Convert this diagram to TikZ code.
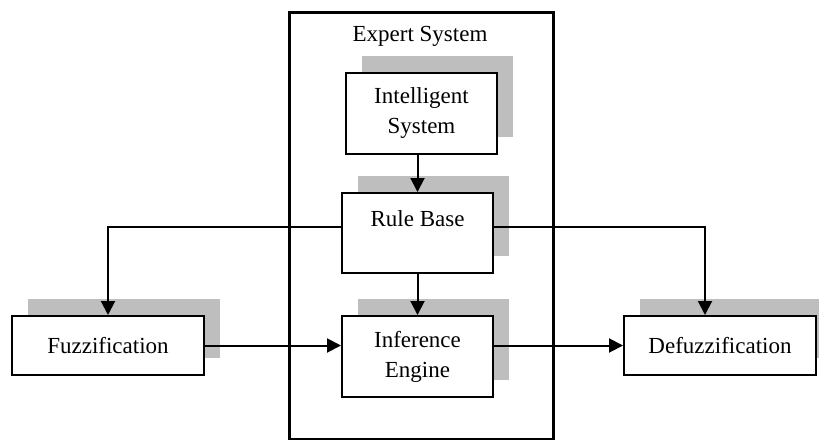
\documentclass[tikz,border=0pt]{standalone}
\usepackage{fontspec}
\setmainfont{Liberation Serif}
\usetikzlibrary{arrows.meta,shadows,calc}
\definecolor{shadowgray}{RGB}{190,190,190}
\begin{document}
\begin{tikzpicture}[x=1pt,y=-1pt,
  box/.style={draw=black, line width=2pt, fill=white, align=center,
    inner sep=0pt, font=\fontsize{23}{30}\selectfont,
    general shadow={fill=shadowgray, draw=none, shadow xshift=16pt, shadow yshift=17pt}},
  arr/.style={line width=2pt, -{Triangle[length=14pt,width=14pt]}}]
  \useasboundingbox (0,0) rectangle (819,439);
  \clip (0,0) rectangle (819,439);

  % expert system frame, open past the lower edge
  \draw[line width=3pt] (289,12) rectangle (553,439.5);
  \node[font=\fontsize{23}{30}\selectfont] (es) at (420,36) {Expert System};

  % blocks
  \node[box, minimum width=151pt, minimum height=81pt] (intel) at (421.5,113.5) {Intelligent\\System};
  \node[box, minimum width=151pt, minimum height=80pt,
        label={[anchor=center, yshift=-27pt, font=\fontsize{23}{30}\selectfont]north:Rule Base}] (rule) at (417.5,233) {};
  \node[box, minimum width=151pt, minimum height=81pt] (infer) at (417.5,356.5) {Inference\\Engine};
  \node[box, minimum width=192pt, minimum height=59pt] (fuzz) at (108,345.5) {Fuzzification};
  \node[box, minimum width=192pt, minimum height=59pt] (defuzz) at (720,345.5) {Defuzzification};

  % connectors
  \coordinate (rl) at ([yshift=6pt]rule.west);
  \coordinate (rr) at ([yshift=6pt]rule.east);
  \coordinate (dtop) at ([xshift=-15pt]defuzz.north);
  \draw[arr] (intel.south -| rule.north) -- (rule.north);
  \draw[arr] (rule.south) -- (infer.north);
  \draw[arr] (rl) -| (fuzz.north);
  \draw[arr] (rr) -| (dtop);
  \draw[arr] (fuzz.east) -- (fuzz.east -| infer.west);
  \draw[arr] (infer.east |- defuzz.west) -- (defuzz.west);
\end{tikzpicture}
\end{document}
